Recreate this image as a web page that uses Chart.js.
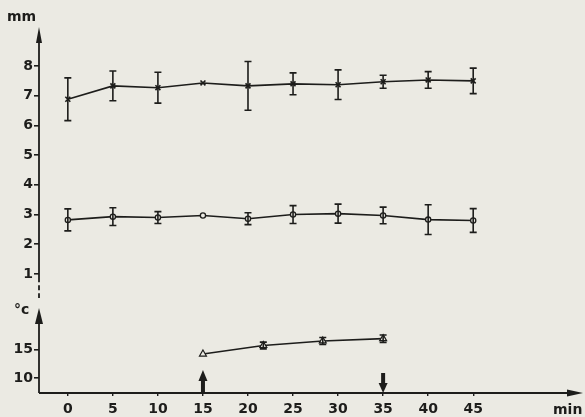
<!DOCTYPE html>
<html>
<head>
<meta charset="utf-8">
<script src="https://cdn.jsdelivr.net/npm/chart.js@4.4.1/dist/chart.umd.min.js"></script>
<style>
  html, body { margin: 0; padding: 0; background: #ebeae3; }
  canvas { display: block; }
</style>
</head>
<body>
<canvas id="fig" width="585" height="417"></canvas>
<script>
// values
const minutes = [0, 5, 10, 15, 20, 25, 30, 35, 40, 45];
const upperMean = [6.88, 7.33, 7.27, 7.43, 7.33, 7.4, 7.37, 7.47, 7.53, 7.5];
const upperErr = [0.72, 0.5, 0.52, 0, 0.82, 0.37, 0.5, 0.22, 0.28, 0.43];
const lowerMean = [2.82, 2.93, 2.9, 2.97, 2.86, 3.0, 3.03, 2.97, 2.83, 2.8];
const lowerErr = [0.37, 0.3, 0.2, 0, 0.2, 0.3, 0.32, 0.28, 0.5, 0.4];
const tempMinutes = [15, 21.7, 28.3, 35];
const tempMean = [14.2, 15.7, 16.5, 16.9];
const tempErr = [0, 0.6, 0.6, 0.65];

const minuteTicks = [0, 5, 10, 15, 20, 25, 30, 35, 40, 45];
const mmTicks = [1, 2, 3, 4, 5, 6, 7, 8];
const tempTicks = [10, 15];
const stimOn = 15;
const stimOff = 35;

const ink = "#1d1d1b";
const paper = "#ebeae3";
const fontFamily = "'DejaVu Sans', 'Liberation Sans', sans-serif";
const tickFont = { family: fontFamily, size: 14, weight: "bold" };

const toPoints = (xs, ys) => xs.map((x, i) => ({ x: x, y: ys[i] }));

function arrowHead(ctx, tipX, tipY, dir, len, half) {
  ctx.beginPath();
  if (dir === "up") {
    ctx.moveTo(tipX, tipY);
    ctx.lineTo(tipX - half, tipY + len);
    ctx.lineTo(tipX + half, tipY + len);
  } else if (dir === "down") {
    ctx.moveTo(tipX, tipY);
    ctx.lineTo(tipX - half, tipY - len);
    ctx.lineTo(tipX + half, tipY - len);
  } else {
    ctx.moveTo(tipX, tipY);
    ctx.lineTo(tipX - len, tipY - half);
    ctx.lineTo(tipX - len, tipY + half);
  }
  ctx.closePath();
  ctx.fill();
}

const paperBg = {
  id: "paperBg",
  beforeDraw(chart) {
    const ctx = chart.ctx;
    ctx.save();
    ctx.fillStyle = paper;
    ctx.fillRect(0, 0, chart.width, chart.height);
    ctx.restore();
  }
};

const axisLines = {
  id: "axisLines",
  beforeDatasetsDraw(chart) {
    const { ctx, chartArea: a, scales } = chart;
    const mm = scales.y, t = scales.yT, x = scales.x;
    ctx.save();
    ctx.strokeStyle = ink;
    ctx.fillStyle = ink;
    ctx.lineWidth = 1.8;

    // mm axis, solid then dashed near the break
    const solidEnd = mm.getPixelForValue(0.72);
    ctx.beginPath();
    ctx.moveTo(a.left, mm.top + 10);
    ctx.lineTo(a.left, solidEnd);
    ctx.stroke();
    ctx.setLineDash([5, 3]);
    ctx.beginPath();
    ctx.moveTo(a.left, solidEnd + 3);
    ctx.lineTo(a.left, mm.bottom - 2);
    ctx.stroke();
    ctx.setLineDash([]);
    arrowHead(ctx, a.left, mm.top - 1, "up", 16, 3);

    // temperature axis
    ctx.beginPath();
    ctx.moveTo(a.left, t.bottom);
    ctx.lineTo(a.left, t.top + 20);
    ctx.stroke();
    arrowHead(ctx, a.left, t.top + 8, "up", 16, 4);

    // time axis
    ctx.beginPath();
    ctx.moveTo(a.left, a.bottom);
    ctx.lineTo(a.right, a.bottom);
    ctx.stroke();
    arrowHead(ctx, a.right + 8, a.bottom, "right", 16, 3.5);

    // stimulus on / off arrows
    const on = x.getPixelForValue(stimOn);
    ctx.lineWidth = 4;
    ctx.beginPath();
    ctx.moveTo(on, a.bottom);
    ctx.lineTo(on, a.bottom - 13);
    ctx.stroke();
    arrowHead(ctx, on, a.bottom - 23, "up", 11, 4.5);
    const off = x.getPixelForValue(stimOff);
    ctx.beginPath();
    ctx.moveTo(off, a.bottom - 20);
    ctx.lineTo(off, a.bottom - 9);
    ctx.stroke();
    arrowHead(ctx, off, a.bottom, "down", 10, 4.5);

    // unit labels
    ctx.font = "bold 14px " + fontFamily;
    ctx.textBaseline = "alphabetic";
    ctx.textAlign = "left";
    ctx.fillText("mm", 7, 21);
    ctx.fillText("°c", 14, 314);
    ctx.fillText("min", 553, 414);
    ctx.restore();
  }
};

const errorBars = {
  id: "errorBars",
  afterDatasetsDraw(chart) {
    const ctx = chart.ctx;
    ctx.save();
    ctx.strokeStyle = ink;
    ctx.lineWidth = 1.6;
    chart.data.datasets.forEach((ds, i) => {
      if (!ds.errors) return;
      const meta = chart.getDatasetMeta(i);
      const yScale = chart.scales[ds.yAxisID];
      meta.data.forEach((pt, j) => {
        const e = ds.errors[j];
        if (!e) return;
        const v = ds.data[j].y;
        const top = yScale.getPixelForValue(v + e);
        const bot = yScale.getPixelForValue(v - e);
        const cap = ds.capHalf;
        ctx.beginPath();
        ctx.moveTo(pt.x, top);
        ctx.lineTo(pt.x, bot);
        ctx.moveTo(pt.x - cap, top);
        ctx.lineTo(pt.x + cap, top);
        ctx.moveTo(pt.x - cap, bot);
        ctx.lineTo(pt.x + cap, bot);
        ctx.stroke();
      });
    });
    ctx.restore();
  }
};

const fixedTicks = list => scale => { scale.ticks = list.map(v => ({ value: v })); };

const yGrid = { drawOnChartArea: false, drawTicks: true, tickLength: 5, color: ink, lineWidth: 1.6 };

new Chart(document.getElementById("fig"), {
  type: "line",
  data: {
    datasets: [
      {
        data: toPoints(minutes, upperMean),
        errors: upperErr,
        capHalf: 3.5,
        yAxisID: "y",
        borderColor: ink,
        borderWidth: 1.6,
        pointStyle: "crossRot",
        pointRadius: 3.5,
        pointBorderColor: ink,
        pointBorderWidth: 1.6,
        tension: 0
      },
      {
        data: toPoints(minutes, lowerMean),
        errors: lowerErr,
        capHalf: 3.5,
        yAxisID: "y",
        borderColor: ink,
        borderWidth: 1.6,
        pointStyle: "circle",
        pointRadius: 2.6,
        pointBackgroundColor: paper,
        pointBorderColor: ink,
        pointBorderWidth: 1.3,
        tension: 0
      },
      {
        data: toPoints(tempMinutes, tempMean),
        errors: tempErr,
        capHalf: 3.5,
        yAxisID: "yT",
        borderColor: ink,
        borderWidth: 1.6,
        pointStyle: "triangle",
        pointRadius: 4,
        pointBackgroundColor: paper,
        pointBorderColor: ink,
        pointBorderWidth: 1.2,
        tension: 0
      }
    ]
  },
  options: {
    responsive: false,
    animation: false,
    layout: { padding: { top: 28, right: 10, left: 0, bottom: 0 } },
    plugins: { legend: { display: false }, tooltip: { enabled: false } },
    scales: {
      yT: {
        type: "linear",
        position: "left",
        stack: "left",
        stackWeight: 93,
        min: 7.37,
        max: 23.68,
        afterBuildTicks: fixedTicks(tempTicks),
        afterFit: s => { s.width = 39; },
        grid: yGrid,
        border: { display: false },
        ticks: { font: tickFont, color: ink, padding: 1, autoSkip: false }
      },
      y: {
        type: "linear",
        position: "left",
        stack: "left",
        stackWeight: 272,
        min: 0.124,
        max: 9.279,
        afterBuildTicks: fixedTicks(mmTicks),
        afterFit: s => { s.width = 39; },
        grid: yGrid,
        border: { display: false },
        ticks: { font: tickFont, color: ink, padding: 1, autoSkip: false }
      },
      x: {
        type: "linear",
        position: "bottom",
        min: -3.2,
        max: 56.3,
        afterBuildTicks: fixedTicks(minuteTicks),
        afterFit: s => { s.height = 24; },
        grid: { drawOnChartArea: false, drawTicks: true, tickLength: 3, color: ink, lineWidth: 1.4 },
        border: { display: false },
        ticks: { font: tickFont, color: ink, padding: 5, maxRotation: 0, autoSkip: false }
      }
    }
  },
  plugins: [paperBg, axisLines, errorBars]
});
</script>
</body>
</html>
